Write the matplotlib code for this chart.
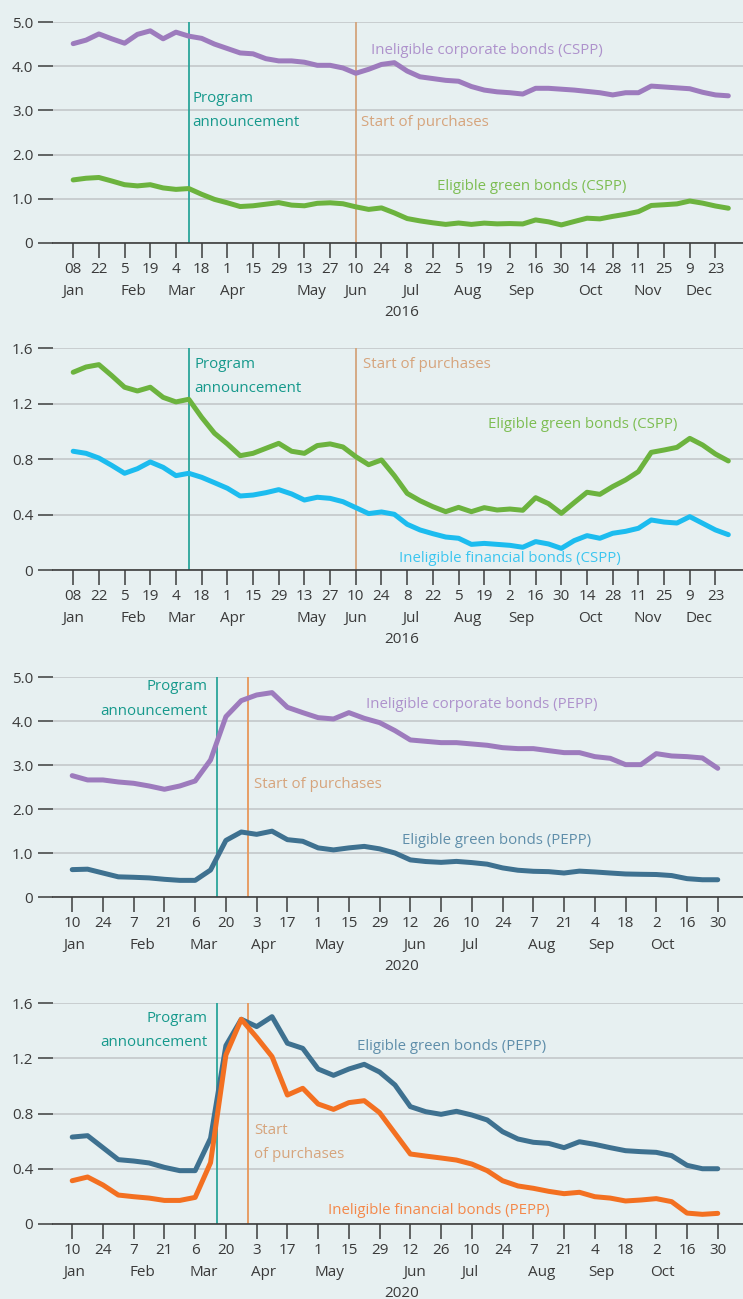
import matplotlib
matplotlib.use("Agg")
import matplotlib.pyplot as plt
import pandas as pd

# ---------------- data ----------------
dates_2016 = pd.date_range("2016-01-08", "2016-12-30", freq="7D")
corp_cspp = [4.51, 4.59, 4.73, 4.62, 4.52, 4.72, 4.80, 4.62, 4.77, 4.68,
             4.63, 4.50, 4.40, 4.30, 4.28, 4.17, 4.12, 4.12, 4.09, 4.02,
             4.02, 3.96, 3.84, 3.93, 4.04, 4.08, 3.89, 3.76, 3.72, 3.68,
             3.66, 3.54, 3.46, 3.42, 3.40, 3.37, 3.50, 3.50, 3.48, 3.46,
             3.43, 3.40, 3.35, 3.40, 3.40, 3.55, 3.53, 3.51, 3.49, 3.41,
             3.35, 3.33]
green_cspp = [1.427, 1.465, 1.482, 1.403, 1.319, 1.292, 1.319, 1.246, 1.213, 1.232,
              1.102, 0.987, 0.910, 0.825, 0.842, 0.878, 0.914, 0.857, 0.842, 0.898,
              0.910, 0.888, 0.818, 0.760, 0.794, 0.681, 0.553, 0.500, 0.457, 0.421,
              0.452, 0.421, 0.450, 0.433, 0.440, 0.431, 0.522, 0.479, 0.409, 0.486,
              0.561, 0.546, 0.602, 0.650, 0.710, 0.849, 0.866, 0.885, 0.950, 0.902,
              0.837, 0.787]
fin_cspp = [0.857, 0.842, 0.808, 0.755, 0.698, 0.731, 0.780, 0.741, 0.681, 0.698,
            0.669, 0.630, 0.590, 0.534, 0.541, 0.558, 0.580, 0.549, 0.505, 0.525,
            0.517, 0.493, 0.450, 0.407, 0.419, 0.402, 0.330, 0.289, 0.262, 0.238,
            0.229, 0.185, 0.192, 0.185, 0.178, 0.164, 0.205, 0.188, 0.156, 0.212,
            0.248, 0.229, 0.265, 0.279, 0.301, 0.361, 0.346, 0.339, 0.385, 0.337,
            0.289, 0.255]

dates_2020 = pd.date_range("2020-01-10", "2020-10-30", freq="7D")
corp_pepp = [2.765, 2.667, 2.667, 2.621, 2.591, 2.530, 2.455, 2.530, 2.644, 3.121,
             4.106, 4.470, 4.598, 4.652, 4.318, 4.197, 4.083, 4.053, 4.197, 4.068,
             3.970, 3.788, 3.576, 3.545, 3.515, 3.515, 3.485, 3.455, 3.401, 3.379,
             3.379, 3.333, 3.288, 3.288, 3.197, 3.159, 3.015, 3.015, 3.265, 3.212,
             3.197, 3.167, 2.932]
green_pepp = [0.629, 0.639, 0.552, 0.465, 0.455, 0.441, 0.409, 0.385, 0.385, 0.620,
              1.293, 1.484, 1.431, 1.503, 1.310, 1.273, 1.123, 1.077, 1.123, 1.157,
              1.101, 1.007, 0.850, 0.813, 0.794, 0.816, 0.789, 0.753, 0.668, 0.615,
              0.591, 0.583, 0.552, 0.595, 0.576, 0.552, 0.530, 0.523, 0.518, 0.494,
              0.424, 0.399, 0.399]
fin_pepp = [0.312, 0.339, 0.281, 0.208, 0.196, 0.186, 0.169, 0.169, 0.191, 0.443,
            1.225, 1.484, 1.353, 1.213, 0.934, 0.983, 0.869, 0.830, 0.879, 0.893,
            0.806, 0.656, 0.506, 0.491, 0.477, 0.462, 0.433, 0.385, 0.312, 0.274,
            0.257, 0.235, 0.218, 0.228, 0.196, 0.186, 0.165, 0.172, 0.182, 0.160,
            0.077, 0.068, 0.075]

tick_labels_2016 = ["08", "22", "5", "19", "4", "18", "1", "15", "29", "13", "27",
                    "10", "24", "8", "22", "5", "19", "2", "16", "30", "14", "28",
                    "11", "25", "9", "23"]
tick_labels_2020 = ["10", "24", "7", "21", "6", "20", "3", "17", "1", "15", "29",
                    "12", "26", "10", "24", "7", "21", "4", "18", "2", "16", "30"]
months_2016 = ["Jan", "Feb", "Mar", "Apr", "May", "Jun", "Jul", "Aug", "Sep",
               "Oct", "Nov", "Dec"]
months_2020 = ["Jan", "Feb", "Mar", "Apr", "May", "Jun", "Jul", "Aug", "Sep", "Oct"]

# ---------------- layout / style ----------------
month_pos_2016 = ["2016-01-08", "2016-02-10", "2016-03-07", "2016-04-04",
                  "2016-05-17", "2016-06-10", "2016-07-10", "2016-08-10",
                  "2016-09-08", "2016-10-16", "2016-11-16", "2016-12-14"]
month_pos_2020 = ["2020-01-11", "2020-02-11", "2020-03-10", "2020-04-06",
                  "2020-05-06", "2020-06-14", "2020-07-09", "2020-08-11",
                  "2020-09-07", "2020-10-05"]
year_pos_2016 = "2016-07-05"
year_pos_2020 = "2020-06-08"
xlim_2016 = ("2015-12-28", "2017-01-07")
xlim_2020 = ("2020-01-01 06:00", "2020-11-10 12:00")
announce_2016, start_2016 = "2016-03-11", "2016-06-10"
announce_2020, start_2020 = "2020-03-16", "2020-03-30"

BG = "#e7f0f1"
C_PURPLE, C_PURPLE_T = "#9d7bbd", "#ae92cc"
C_GREEN, C_GREEN_T = "#6cb33e", "#7dbd52"
C_CYAN, C_CYAN_T = "#1cbcef", "#3cc6f0"
C_BLUE, C_BLUE_T = "#3e7190", "#5f8eaa"
C_ORANGE, C_ORANGE_T = "#f37021", "#f4884a"
C_TEAL, C_TEAL_T = "#2aa59a", "#16998c"
C_TAN, C_TAN_T = "#d4a47c", "#d6a47c"
C_ORLINE = "#e8975a"
TXT = "#3a3a3a"
FONT = ["Open Sans", "DejaVu Sans"]
FS = 10.8
FS_TICK = 11

plt.rcParams["font.family"] = FONT
plt.rcParams["font.size"] = FS

W, H = 743, 1299
fig = plt.figure(figsize=(W / 100, H / 100), dpi=100, facecolor=BG)


def make_ax(top_px, bottom_px):
    ax = fig.add_axes([53 / W, 1 - bottom_px / H, (W - 53) / W,
                       (bottom_px - top_px) / H])
    ax.set_facecolor(BG)
    for s in ("top", "right", "left"):
        ax.spines[s].set_visible(False)
    ax.spines["bottom"].set_color("#3c3c3c")
    ax.spines["bottom"].set_linewidth(1.2)
    ax.yaxis.grid(True, color="#c6cbcd", lw=1.3)
    ax.set_axisbelow(True)
    ax.tick_params(axis="y", length=10.8, width=1.1, color="#3c3c3c",
                   labelsize=FS_TICK, labelcolor=TXT, pad=3.5)
    ax.tick_params(axis="x", length=10.8, width=1.1, color="#3c3c3c",
                   labelsize=FS_TICK, labelcolor=TXT, pad=2.8)
    return ax


def fmt_axis(ax, dates, tick_labels, months, month_pos, year, year_pos,
             xlim, yticks, ylabels):
    ax.set_xlim(pd.Timestamp(xlim[0]), pd.Timestamp(xlim[1]))
    ax.set_xticks(list(dates[::2]))
    ax.set_xticklabels(tick_labels)
    ax.set_ylim(yticks[0], yticks[-1])
    ax.set_yticks(yticks)
    ax.set_yticklabels(ylabels)
    for m, p in zip(months, month_pos):
        ax.annotate(m, xy=(pd.Timestamp(p), 0), xycoords=("data", "axes fraction"),
                    xytext=(0, -34.8), textcoords="offset points",
                    ha="center", va="center", fontsize=FS_TICK, color=TXT)
    ax.annotate(year, xy=(pd.Timestamp(year_pos), 0),
                xycoords=("data", "axes fraction"), xytext=(0, -50),
                textcoords="offset points", ha="center", va="center",
                fontsize=FS_TICK, color=TXT)


def ftext(x, y, s, color, ha="left"):
    fig.text(x / W, 1 - y / H, s, color=color, ha=ha, va="center", fontsize=FS)


LW = 3.6
kw = dict(lw=LW, solid_capstyle="round", solid_joinstyle="round")

# ---- panel 1 ----
ax1 = make_ax(22, 243)
ax1.axvline(pd.Timestamp(announce_2016), color=C_TEAL, lw=1.3, zorder=2)
ax1.axvline(pd.Timestamp(start_2016), color=C_TAN, lw=1.3, zorder=2)
ax1.plot(dates_2016, corp_cspp, color=C_PURPLE, zorder=3, **kw)
ax1.plot(dates_2016, green_cspp, color=C_GREEN, zorder=3, **kw)
fmt_axis(ax1, dates_2016, tick_labels_2016, months_2016, month_pos_2016, "2016",
         year_pos_2016, xlim_2016, [0, 1, 2, 3, 4, 5],
         ["0", "1.0", "2.0", "3.0", "4.0", "5.0"])
ftext(192, 98, "Program", C_TEAL_T)
ftext(192, 122, "announcement", C_TEAL_T)
ftext(361, 122, "Start of purchases", C_TAN_T)
ftext(371, 50, "Ineligible corporate bonds (CSPP)", C_PURPLE_T)
ftext(437, 186, "Eligible green bonds (CSPP)", C_GREEN_T)

# ---- panel 2 ----
ax2 = make_ax(348.3, 570)
ax2.axvline(pd.Timestamp(announce_2016), color=C_TEAL, lw=1.3, zorder=2)
ax2.axvline(pd.Timestamp(start_2016), color=C_TAN, lw=1.3, zorder=2)
ax2.plot(dates_2016, green_cspp, color=C_GREEN, zorder=3, **kw)
ax2.plot(dates_2016, fin_cspp, color=C_CYAN, zorder=3, **kw)
fmt_axis(ax2, dates_2016, tick_labels_2016, months_2016, month_pos_2016, "2016",
         year_pos_2016, xlim_2016, [0, 0.4, 0.8, 1.2, 1.6],
         ["0", "0.4", "0.8", "1.2", "1.6"])
ftext(194, 364, "Program", C_TEAL_T)
ftext(194, 388, "announcement", C_TEAL_T)
ftext(363, 364, "Start of purchases", C_TAN_T)
ftext(488, 425, "Eligible green bonds (CSPP)", C_GREEN_T)
ftext(399, 559, "Ineligible financial bonds (CSPP)", C_CYAN_T)

# ---- panel 3 ----
ax3 = make_ax(677.3, 897.3)
ax3.axvline(pd.Timestamp(announce_2020), color=C_TEAL, lw=1.3, zorder=2)
ax3.axvline(pd.Timestamp(start_2020), color=C_ORLINE, lw=1.3, zorder=2)
ax3.plot(dates_2020, corp_pepp, color=C_PURPLE, zorder=3, **kw)
ax3.plot(dates_2020, green_pepp, color=C_BLUE, zorder=3, **kw)
fmt_axis(ax3, dates_2020, tick_labels_2020, months_2020, month_pos_2020, "2020",
         year_pos_2020, xlim_2020, [0, 1, 2, 3, 4, 5],
         ["0", "1.0", "2.0", "3.0", "4.0", "5.0"])
ftext(208, 687, "Program", C_TEAL_T, ha="right")
ftext(208, 711, "announcement", C_TEAL_T, ha="right")
ftext(254, 784, "Start of purchases", C_TAN_T)
ftext(366, 705, "Ineligible corporate bonds (PEPP)", C_PURPLE_T)
ftext(402, 841, "Eligible green bonds (PEPP)", C_BLUE_T)

# ---- panel 4 ----
ax4 = make_ax(1003.3, 1223.7)
ax4.axvline(pd.Timestamp(announce_2020), color=C_TEAL, lw=1.3, zorder=2)
ax4.axvline(pd.Timestamp(start_2020), color=C_ORLINE, lw=1.3, zorder=2)
ax4.plot(dates_2020, green_pepp, color=C_BLUE, zorder=3, **kw)
ax4.plot(dates_2020, fin_pepp, color=C_ORANGE, zorder=4, **kw)
fmt_axis(ax4, dates_2020, tick_labels_2020, months_2020, month_pos_2020, "2020",
         year_pos_2020, xlim_2020, [0, 0.4, 0.8, 1.2, 1.6],
         ["0", "0.4", "0.8", "1.2", "1.6"])
ftext(208, 1019, "Program", C_TEAL_T, ha="right")
ftext(208, 1043, "announcement", C_TEAL_T, ha="right")
ftext(254, 1131, "Start", C_TAN_T)
ftext(254, 1154, "of purchases", C_TAN_T)
ftext(357, 1046, "Eligible green bonds (PEPP)", C_BLUE_T)
ftext(328, 1210, "Ineligible financial bonds (PEPP)", C_ORANGE_T)

fig.savefig("out.png", dpi=100, facecolor=BG)
